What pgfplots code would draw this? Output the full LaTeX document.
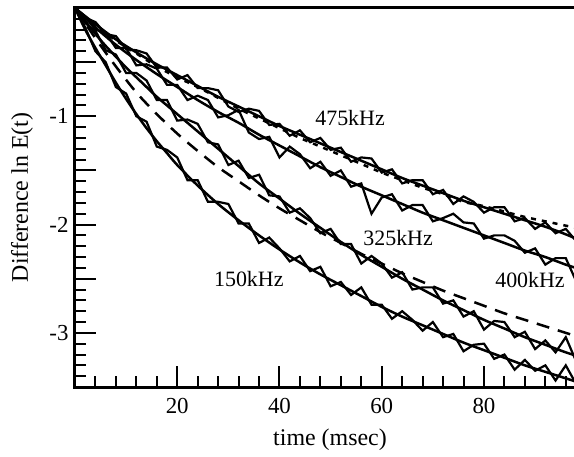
\documentclass[border=0pt]{standalone}
\usepackage{pgfplots}
\pgfplotsset{compat=1.18}
\usepackage{fontspec}
\setmainfont{Liberation Serif}
\begin{document}
\begin{tikzpicture}
\begin{axis}[
  scale only axis,
  width=501bp, height=379bp,
  xmin=0, xmax=98, ymin=-3.5, ymax=0,
  axis line style={line width=3bp},
  every tick/.style={line width=2bp, black},
  tick align=inside,
  xtick pos=left, ytick pos=left,
  major tick length=21bp, minor tick length=11bp,
  xtick={20,40,60,80},
  minor xtick={4,8,12,16,24,28,32,36,44,48,52,56,64,68,72,76,84,88,92,96},
  ytick={-3,-2,-1}, yticklabels={-3,-2,-1},
  extra y ticks={-2.5,-1.5,-0.5}, extra y tick labels={},
  minor ytick={-3.4,-3.3,-3.2,-3.1,-2.9,-2.8,-2.7,-2.6,-2.4,-2.3,-2.2,-2.1,-1.9,-1.8,-1.7,-1.6,-1.4,-1.3,-1.2,-1.1,-0.9,-0.8,-0.7,-0.6,-0.4,-0.3,-0.2,-0.1},
  ticklabel style={font=\fontsize{23}{23}\selectfont},
  /pgf/number format/assume math mode=true,
  xticklabel style={yshift=-8bp},
  yticklabel style={xshift=-3bp},
  xlabel={time (msec)}, ylabel={Difference ln E(t)},
  xlabel style={at={(axis description cs:0.509,-0.1398)}, anchor=center, font=\fontsize{24}{24}\selectfont},
  ylabel style={at={(axis description cs:-0.1058,0.5)}, anchor=center, font=\fontsize{24}{24}\selectfont},
]
\coordinate (O) at (rel axis cs:0,0);
% ---- data (noisy) ----
\addplot[black, line width=2.2bp] coordinates {
(0,0) (2,-0.18) (4,-0.40) (6,-0.50) (8,-0.73) (10,-0.79) (12,-1.00) (14,-1.05) (16,-1.28) (18,-1.31)
(20,-1.38) (22,-1.59) (24,-1.59) (26,-1.79) (28,-1.79) (30,-1.81) (32,-1.99) (34,-1.99) (36,-2.17) (38,-2.12)
(40,-2.22) (42,-2.34) (44,-2.29) (46,-2.43) (48,-2.39) (50,-2.57) (52,-2.53) (54,-2.65) (56,-2.58) (58,-2.74)
(60,-2.74) (62,-2.87) (64,-2.80) (66,-2.88) (68,-2.98) (70,-2.90) (72,-3.04) (74,-3.01) (76,-3.17) (78,-3.11)
(80,-3.10) (82,-3.24) (84,-3.20) (86,-3.34) (88,-3.25) (90,-3.35) (92,-3.30) (94,-3.44) (96,-3.30) (98,-3.47)};
\addplot[black, line width=2.2bp] coordinates {
(0,0) (2,-0.14) (4,-0.21) (6,-0.39) (8,-0.43) (10,-0.60) (12,-0.60) (14,-0.67) (16,-0.85) (18,-0.85)
(20,-1.04) (22,-1.03) (24,-1.07) (26,-1.24) (28,-1.26) (30,-1.45) (32,-1.41) (34,-1.57) (36,-1.54) (38,-1.73)
(40,-1.74) (42,-1.89) (44,-1.85) (46,-1.94) (48,-2.08) (50,-2.04) (52,-2.18) (54,-2.18) (56,-2.36) (58,-2.29)
(60,-2.36) (62,-2.49) (64,-2.44) (66,-2.60) (68,-2.58) (70,-2.58) (72,-2.73) (74,-2.70) (76,-2.85) (78,-2.80)
(80,-2.97) (82,-2.89) (84,-2.90) (86,-3.04) (88,-2.99) (90,-3.15) (92,-3.07) (94,-3.18) (96,-3.04) (98,-3.26)};
\addplot[black, line width=2.2bp] coordinates {
(0,0) (2,-0.08) (4,-0.20) (6,-0.23) (8,-0.37) (10,-0.37) (12,-0.53) (14,-0.52) (16,-0.56) (18,-0.71)
(20,-0.71) (22,-0.85) (24,-0.81) (26,-0.85) (28,-1.01) (30,-0.99) (32,-0.94) (34,-1.15) (36,-1.21) (38,-1.19)
(40,-1.38) (42,-1.28) (44,-1.35) (46,-1.48) (48,-1.42) (50,-1.55) (52,-1.50) (54,-1.65) (56,-1.62) (58,-1.90)
(60,-1.75) (62,-1.72) (64,-1.87) (66,-1.82) (68,-1.82) (70,-1.97) (72,-1.94) (74,-1.90) (76,-1.98) (78,-1.99)
(80,-2.13) (82,-2.10) (84,-2.10) (86,-2.15) (88,-2.26) (90,-2.22) (92,-2.37) (94,-2.31) (96,-2.31) (98,-2.52)};
\addplot[black, line width=2.2bp] coordinates {
(0,0) (2,-0.09) (4,-0.13) (6,-0.24) (8,-0.26) (10,-0.38) (12,-0.39) (14,-0.42) (16,-0.55) (18,-0.55)
(20,-0.66) (22,-0.62) (24,-0.74) (26,-0.74) (28,-0.76) (30,-0.91) (32,-0.96) (34,-0.93) (36,-0.95) (38,-1.08)
(40,-1.07) (42,-1.18) (44,-1.13) (46,-1.24) (48,-1.20) (50,-1.31) (52,-1.29) (54,-1.42) (56,-1.38) (58,-1.39)
(60,-1.52) (62,-1.49) (64,-1.62) (66,-1.59) (68,-1.59) (70,-1.72) (72,-1.68) (74,-1.81) (76,-1.74) (78,-1.79)
(80,-1.89) (82,-1.84) (84,-1.84) (86,-1.97) (88,-1.94) (90,-2.04) (92,-1.98) (94,-2.08) (96,-2.04) (98,-2.15)};
% ---- fits ----
\addplot[black, line width=2.5bp, smooth] coordinates {
(0,0) (2,-0.20) (4,-0.37) (6,-0.53) (8,-0.69) (10,-0.84) (12,-0.98) (14,-1.11) (16,-1.23) (18,-1.34) (20,-1.45)
(24,-1.64) (28,-1.81) (32,-1.96) (36,-2.10) (40,-2.23) (44,-2.35) (48,-2.46) (52,-2.56) (56,-2.66) (60,-2.76)
(64,-2.85) (68,-2.93) (72,-3.01) (76,-3.09) (80,-3.16) (84,-3.23) (88,-3.30) (92,-3.36) (96,-3.42) (98,-3.45)};
\addplot[black, line width=2.5bp, smooth] coordinates {
(0,0) (2,-0.12) (4,-0.24) (6,-0.35) (8,-0.45) (10,-0.55) (12,-0.64) (14,-0.73) (16,-0.82) (18,-0.90) (20,-0.98)
(24,-1.14) (28,-1.30) (32,-1.46) (36,-1.62) (40,-1.76) (44,-1.90) (48,-2.03) (52,-2.16) (56,-2.28) (60,-2.39)
(64,-2.50) (68,-2.60) (72,-2.70) (76,-2.79) (80,-2.88) (84,-2.96) (88,-3.04) (92,-3.11) (96,-3.18) (98,-3.21)};
\addplot[black, line width=2.5bp, smooth] coordinates {
(0,0) (4,-0.18) (8,-0.34) (12,-0.48) (16,-0.61) (20,-0.73) (24,-0.85) (28,-0.96) (32,-1.06) (36,-1.17) (40,-1.27)
(44,-1.37) (48,-1.47) (52,-1.56) (56,-1.65) (60,-1.73) (64,-1.81) (68,-1.89) (72,-1.96) (76,-2.03) (80,-2.10)
(84,-2.17) (88,-2.24) (92,-2.30) (96,-2.37) (98,-2.40)};
\addplot[black, line width=2.5bp, smooth] coordinates {
(0,0) (4,-0.15) (8,-0.29) (12,-0.41) (16,-0.52) (20,-0.62) (24,-0.72) (28,-0.82) (32,-0.91) (36,-1.00) (40,-1.09)
(44,-1.17) (48,-1.25) (52,-1.33) (56,-1.41) (60,-1.49) (64,-1.57) (68,-1.64) (72,-1.71) (76,-1.78) (80,-1.84)
(84,-1.90) (88,-1.96) (92,-2.02) (96,-2.09) (98,-2.13)};
% ---- dashed ----
\addplot[black, line width=2.5bp, dash pattern=on 13bp off 9bp, smooth] coordinates {
(0,0) (4,-0.28) (8,-0.54) (12,-0.78) (16,-0.98) (20,-1.16) (24,-1.32) (28,-1.47) (32,-1.60) (36,-1.73) (40,-1.85)
(44,-1.96) (48,-2.07) (52,-2.17) (56,-2.27) (60,-2.36) (64,-2.45) (68,-2.53) (72,-2.61) (76,-2.68) (80,-2.75)
(84,-2.82) (88,-2.88) (92,-2.94) (96,-3.00) (98,-3.03)};
% ---- dotted ----
\addplot[black, line width=2.5bp, dash pattern=on 5bp off 6bp, smooth] coordinates {
(0,0) (4,-0.16) (8,-0.30) (12,-0.42) (16,-0.54) (20,-0.64) (24,-0.73) (28,-0.83) (32,-0.93) (36,-1.02) (40,-1.11)
(44,-1.20) (48,-1.28) (52,-1.36) (56,-1.44) (60,-1.52) (64,-1.59) (68,-1.66) (72,-1.72) (76,-1.79) (80,-1.83)
(84,-1.88) (88,-1.93) (92,-1.97) (96,-2.01) (98,-2.03)};
% ---- labels ----
\node[font=\fontsize{22}{22}\selectfont] at (axis cs:53.8,-1.016) {475kHz};
\node[font=\fontsize{22}{22}\selectfont] at (axis cs:63.2,-2.124) {325kHz};
\node[font=\fontsize{22}{22}\selectfont] at (axis cs:34.0,-2.502) {150kHz};
\node[font=\fontsize{22}{22}\selectfont] at (axis cs:89.0,-2.512) {400kHz};
\end{axis}
\pgfresetboundingbox
\path[use as bounding box] ([shift={(-75bp,-70bp)}]O) rectangle ([shift={(499bp,387bp)}]O);
\end{tikzpicture}
\end{document}
